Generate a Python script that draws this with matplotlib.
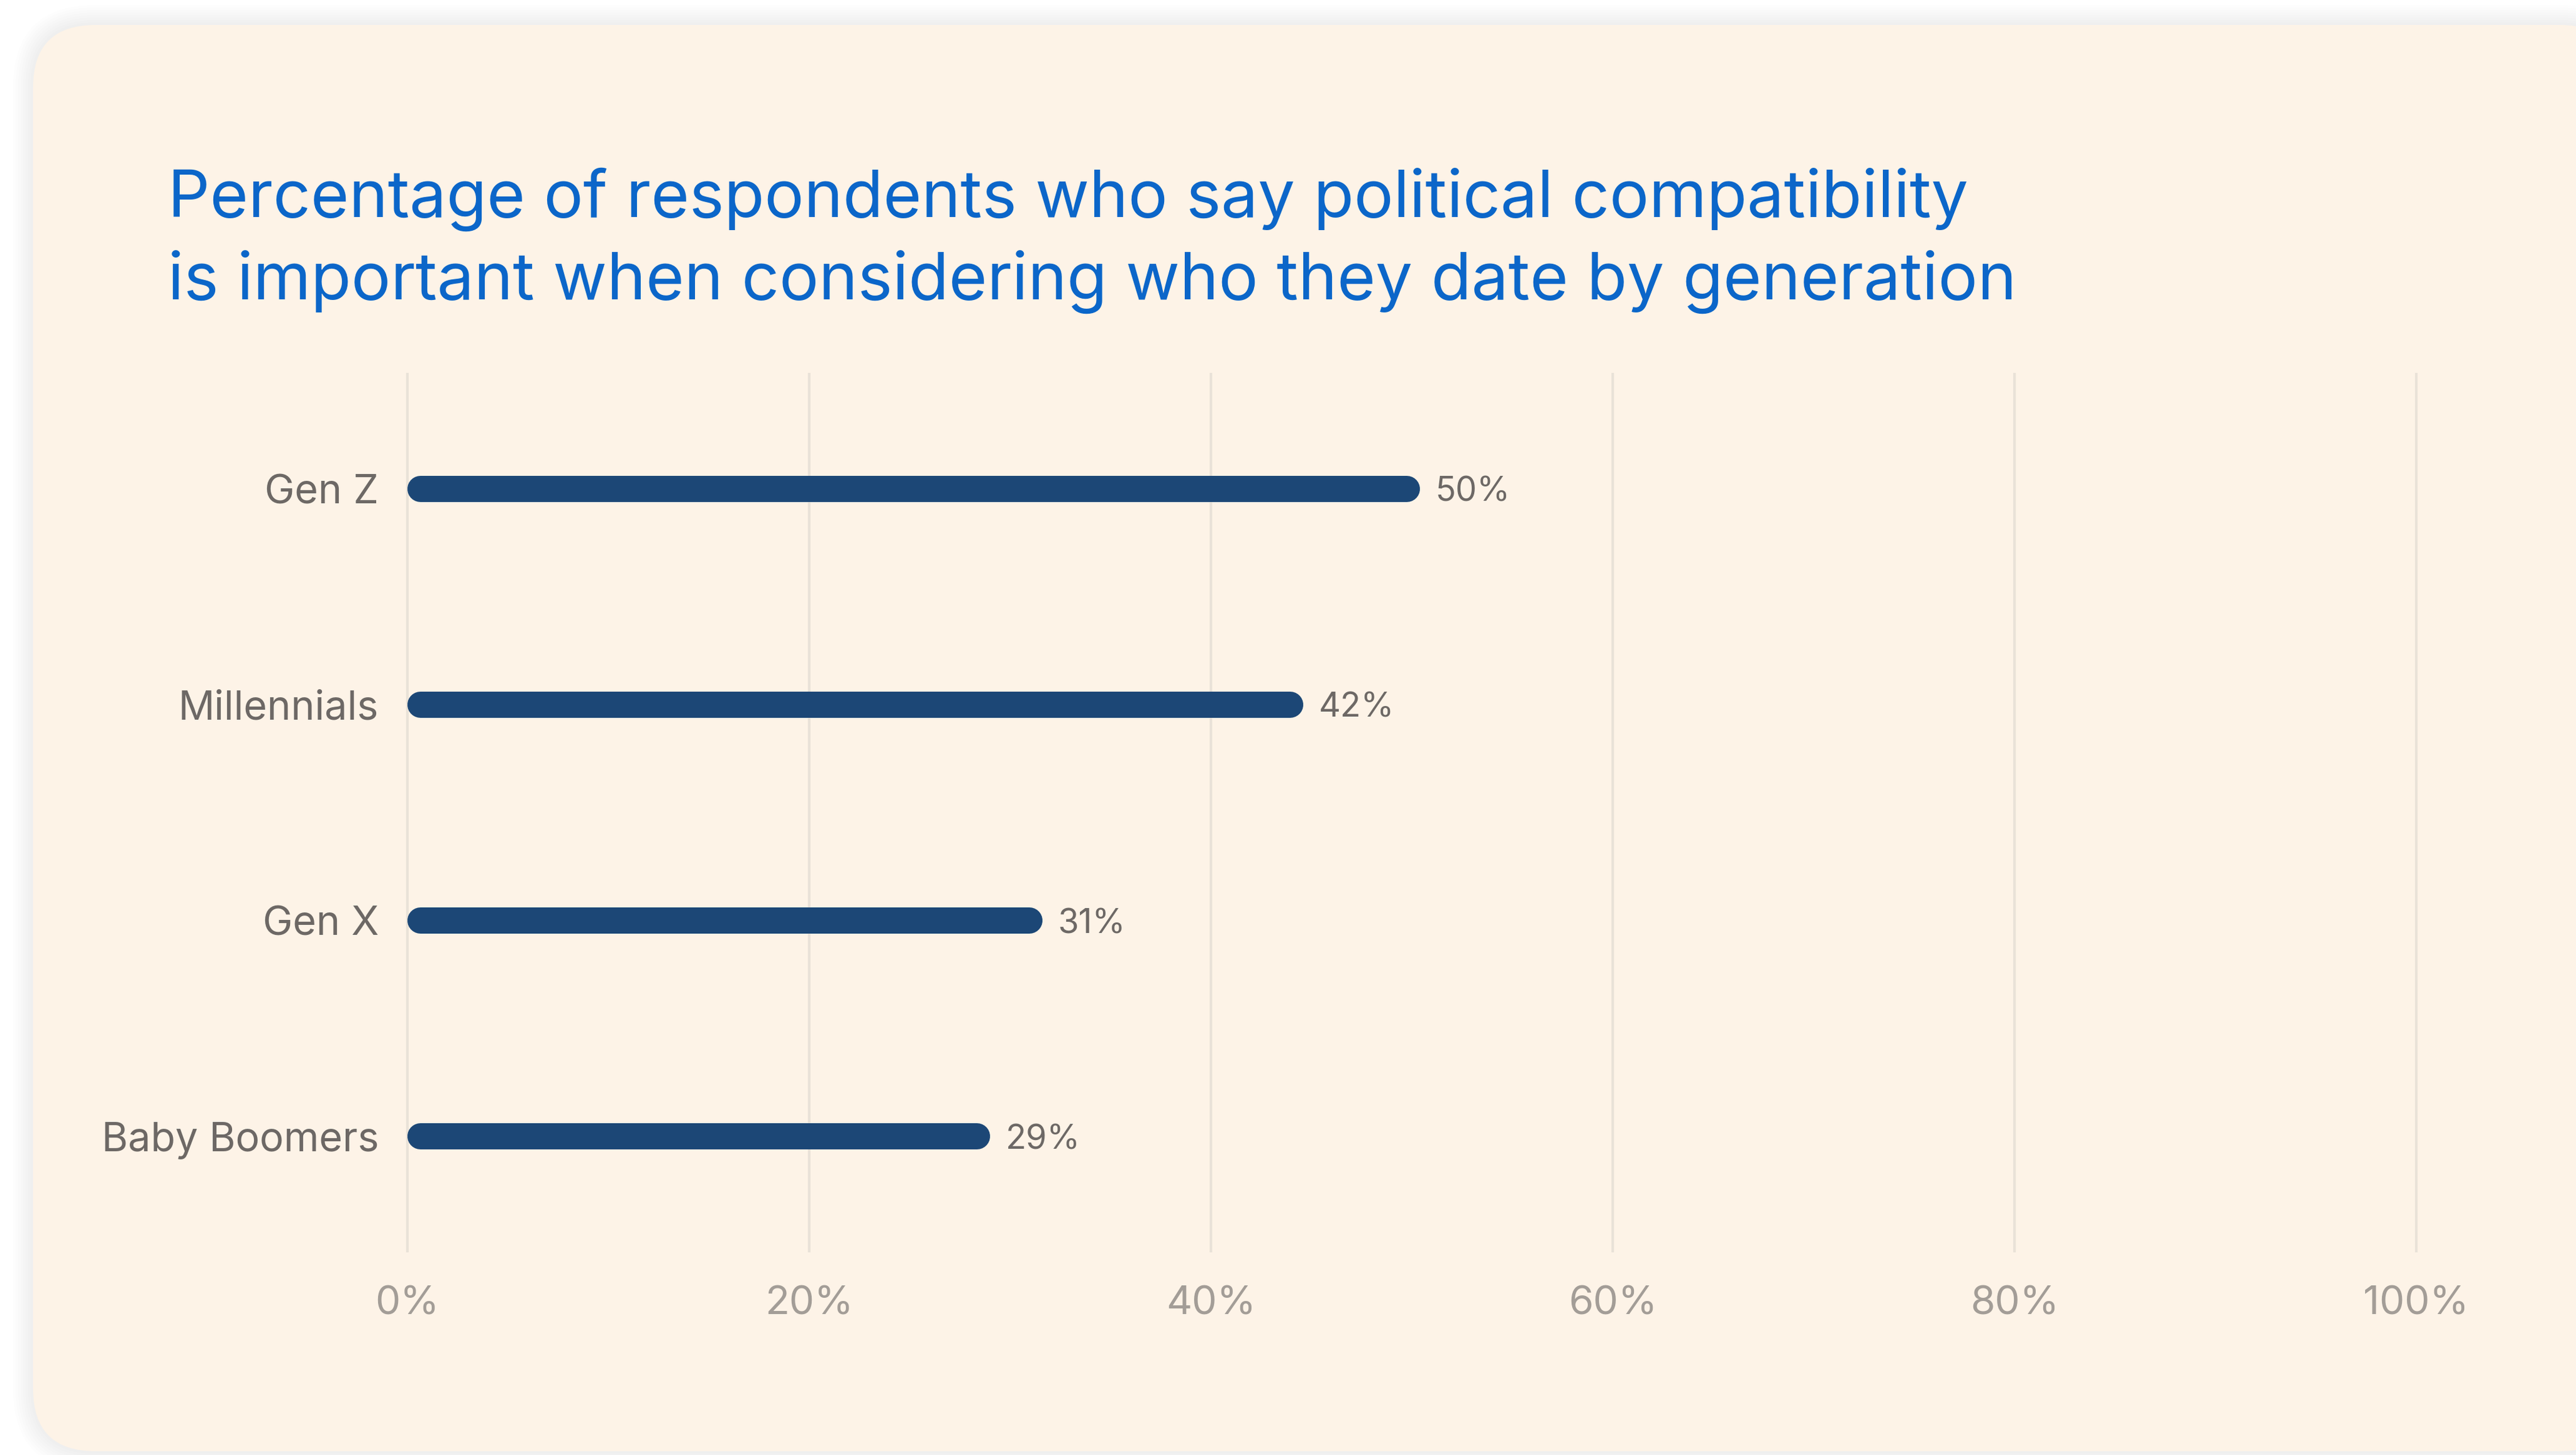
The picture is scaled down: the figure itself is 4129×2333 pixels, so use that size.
import matplotlib.pyplot as plt
from matplotlib.patches import FancyBboxPatch

# Data uit de grafiek
generaties = ["Gen Z", "Millennials", "Gen X", "Baby Boomers"]
balk_lengte = [50.4, 44.6, 31.6, 29.0]          # lengte zoals getekend (in %)
waarde_labels = ["50%", "42%", "31%", "29%"]     # tekst achter de balken
x_ticks = [0, 20, 40, 60, 80, 100]
x_tick_labels = ["0%", "20%", "40%", "60%", "80%", "100%"]
titel_1 = "Percentage of respondents who say political compatibility"
titel_2 = "is important when considering who they date by generation"

W, H, DPI = 4129, 2333, 100
FONT = "Inter"

fig = plt.figure(figsize=(W / DPI, H / DPI), dpi=DPI)
fig.patch.set_facecolor("white")

# Kaart met afgeronde hoeken + zachte schaduw
x0, y0, bw, bh = 53 / DPI, 6 / DPI, 4150 / DPI, 2287 / DPI
for i in range(8):
    p = 0.04 * (i + 1)
    sch = FancyBboxPatch((x0 - p, y0 - p), bw + 2 * p, bh + 2 * p,
                         boxstyle="round,pad=0,rounding_size=%.2f" % (1.0 + p),
                         transform=fig.dpi_scale_trans, facecolor="#6c6f78",
                         edgecolor="none", alpha=0.012, zorder=-20)
    fig.add_artist(sch)
kaart = FancyBboxPatch((x0, y0), bw, bh, boxstyle="round,pad=0,rounding_size=1.0",
                       transform=fig.dpi_scale_trans, facecolor="#fdf3e7",
                       edgecolor="none", zorder=-10)
fig.add_artist(kaart)

# Titel
titel_kleur = "#0b66c9"
fig.text(269 / W, 1 - 348 / H, titel_1, fontsize=76, color=titel_kleur,
         family=FONT, ha="left", va="baseline")
fig.text(269 / W, 1 - 480 / H, titel_2, fontsize=76, color=titel_kleur,
         family=FONT, ha="left", va="baseline")

# Assen
ax_l, ax_r, ax_t, ax_b = 653, 3873, 600, 2006
ax = fig.add_axes([ax_l / W, 1 - ax_b / H, (ax_r - ax_l) / W, (ax_b - ax_t) / H])
ax.set_facecolor("none")
ax.set_xlim(0, 100)
ax.set_ylim(3.53, -0.53)
for s in ax.spines.values():
    s.set_visible(False)

ax.set_xticks(x_ticks)
ax.set_xticklabels(x_tick_labels, fontsize=46, color="#a39d97", family=FONT)
ax.set_yticks(range(len(generaties)))
ax.set_yticklabels(generaties, fontsize=46.5, color="#6d6865", family=FONT,
                   va="center_baseline")
ax.tick_params(axis="x", length=0, pad=40)
ax.tick_params(axis="y", length=0, pad=33)
ax.grid(axis="x", color="#e9e2d8", linewidth=3)
ax.set_axisbelow(True)
for lijn in ax.get_xgridlines():
    lijn.set_clip_on(False)

# Balken met ronde uiteinden
dikte_px = 42
r = (dikte_px / 2) / (ax_r - ax_l) * 100
for i, (lengte, lab) in enumerate(zip(balk_lengte, waarde_labels)):
    ax.plot([r, lengte - r], [i, i], color="#1c4776", linewidth=dikte_px * 72 / DPI,
            solid_capstyle="round", zorder=3)
    ax.annotate(lab, xy=(lengte, i), xytext=(18, 0), textcoords="offset points",
                fontsize=39, color="#6d6865", family=FONT, ha="left",
                va="center_baseline")

fig.savefig("out.png", dpi=DPI, facecolor=fig.get_facecolor())
